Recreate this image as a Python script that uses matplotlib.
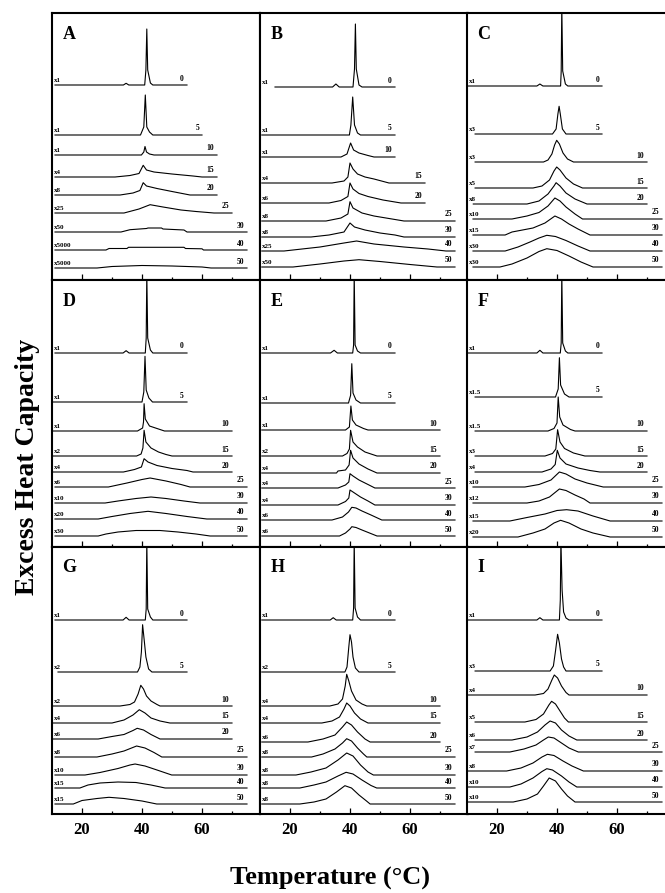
import matplotlib
matplotlib.use("Agg")
from matplotlib import pyplot as plt
from matplotlib.ticker import FixedLocator

plt.rcParams['font.family'] = ['Liberation Serif', 'DejaVu Serif']
plt.rcParams['font.weight'] = 'bold'

# scan rates / temperatures shown at the right of every trace
TEMPS = ["0", "5", "10", "15", "20", "25", "30", "40", "50"]

### ### ###   panel data: scale factor, baseline offset, (T, height) vertices   ### ### ###

A_SCALE = ["x1", "x1", "x1", "x4", "x8", "x25", "x50", "x5000", "x5000"]
A_BASE = [195, 145, 125, 103, 85, 67, 48, 30, 12]
A_CURVES = [
    [(11, 0), (33.8, 0), (34.7, 1.7), (35.6, 0), (40.9, 0), (41.3, 15), (41.6, 56), (41.9, 15), (42.8, 2), (43.6, 0), (55, 0)],
    [(11, 0), (39.5, 0), (40.6, 8), (41.1, 40), (41.6, 8), (42.5, 3), (43.6, 0), (60, 0)],
    [(11, 0), (39.8, 0), (40.6, 3), (41, 8.5), (41.5, 3), (42.5, 1), (44, 0), (65, 0)],
    [(11, 0), (31, 0), (36, 1.5), (39, 3.5), (40.4, 11.7), (41.5, 7), (44, 5), (50, 3), (57, 1), (60, 0), (65, 0)],
    [(11, 0), (32.7, 0), (37, 2), (39.3, 4.5), (40.4, 12.3), (41.5, 9), (45, 6.5), (50, 3.5), (56, 0), (65, 0)],
    [(11, 0), (34, 0), (39, 4), (42.7, 8.3), (47, 6), (53, 3), (58, 1.5), (64, 0), (70, 0)],
    [(11, 0), (33, 0), (36, 2.3), (41.5, 3.5), (42, 4), (46.5, 4), (47, 3), (54, 2), (55, 0), (75, 0)],
    [(11, 0), (28, 0), (29, 1.5), (35, 1.5), (35.5, 2.7), (54, 2.7), (54.5, 1.5), (60, 1.2), (60.5, 0), (75, 0)],
    [(11, 0), (25, 0), (30, 1.5), (40, 2.5), (50, 2), (60, 1), (63, 0), (75, 0)],
]

B_SCALE = ["x1", "x1", "x1", "x4", "x6", "x8", "x8", "x25", "x50"]
B_BASE = [193, 145, 123, 97, 77, 59, 43, 29, 13]
B_CURVES = [
    [(15, 0), (34.2, 0), (35.3, 3), (36.4, 0), (41, 0), (41.5, 18), (41.8, 63), (42.1, 18), (43, 2), (44, 0), (55, 0)],
    [(10.6, 0), (39.8, 0), (40.3, 10), (40.9, 38), (41.5, 10), (42.5, 2), (43.5, 0), (55, 0)],
    [(10.6, 0), (37, 0), (39, 3), (40.2, 14), (41.2, 7), (43, 4), (46, 1.5), (48, 0), (55, 0)],
    [(10.6, 0), (34, 0), (38, 2), (39.3, 6), (40, 20), (41, 14), (42.5, 9), (45, 6), (48, 4), (53, 0), (65, 0)],
    [(10.6, 0), (33, 0), (37, 2.5), (39.3, 6.5), (40, 20), (41, 14), (43, 9.5), (46, 6.5), (51, 3), (57, 0), (65, 0)],
    [(10.6, 0), (32, 0), (37, 3), (39.3, 7), (40, 19.3), (41, 13), (44, 8), (48, 5), (53, 2.5), (58, 0), (75, 0)],
    [(10.6, 0), (27, 0), (33, 2), (38, 5), (40, 14), (41.5, 10), (45, 7), (50, 4), (55, 2), (58, 0), (75, 0)],
    [(10.6, 0), (18, 0), (30, 4), (38, 8), (42.2, 10), (48, 7), (58, 4), (66, 2), (72, 0), (75, 0)],
    [(10.6, 0), (21, 0), (30, 3), (38, 6), (43, 7.3), (50, 5.5), (60, 2.5), (69, 0), (75, 0)],
]

C_SCALE = ["x1", "x3", "x3", "x5", "x8", "x10", "x15", "x30", "x30"]
C_BASE = [194, 146, 118, 92, 76, 61, 45, 29, 13]
C_CURVES = [
    [(10.4, 0), (33.3, 0), (34.3, 2), (35.3, 0), (41.2, 0), (41.4, 15), (41.6, 80), (41.9, 15), (42.8, 2), (43.6, 0), (55, 0)],
    [(12.7, 0), (38.5, 0), (39.7, 5), (40.3, 20), (40.7, 27.7), (41.1, 20), (41.8, 5), (43, 0), (55, 0)],
    [(12.7, 0), (35.5, 0), (37, 2), (38.3, 8), (39.2, 17), (39.9, 21.7), (40.8, 18), (42, 9), (43.5, 3), (45.5, 0), (70, 0)],
    [(12.7, 0), (32, 0), (35, 2), (37.5, 8), (39, 17), (39.9, 21), (41, 18), (43, 10), (45.5, 4), (48.5, 0), (70, 0)],
    [(12.1, 0), (30, 0), (34, 3), (37, 10), (39, 18), (39.7, 21.3), (41, 18), (43, 11), (46, 5), (50, 0), (70, 0)],
    [(12, 0), (25, 0), (30, 3), (34, 6.5), (37, 13), (39.3, 21), (41, 18), (43, 12), (46, 5), (48.5, 0), (75, 0)],
    [(12, 0), (22.7, 0), (25, 3), (32, 7), (36, 12), (39.3, 19), (41.5, 16), (44, 11), (47, 6), (51, 0), (75, 0)],
    [(12, 0), (22.7, 0), (27, 4), (31, 9), (34, 13), (36.6, 15.7), (39.5, 14.5), (43, 10.5), (47, 5), (51, 0), (75, 0)],
    [(12, 0), (21, 0), (25, 3), (30, 9), (34, 15.5), (36.6, 18.3), (40, 16.5), (44, 11), (48, 5), (52, 0), (75, 0)],
]

D_SCALE = ["x1", "x1", "x1", "x2", "x4", "x6", "x10", "x20", "x30"]
D_BASE = [194, 145, 116, 91, 75, 60, 44, 28, 11]
D_CURVES = [
    [(11, 0), (33.7, 0), (34.7, 2.3), (35.7, 0), (41.1, 0), (41.4, 15), (41.6, 80), (41.9, 15), (42.8, 3), (43.6, 0), (55, 0)],
    [(10.4, 0), (40, 0), (40.6, 10), (41, 45.7), (41.4, 12), (42.3, 4), (43.5, 0), (55, 0)],
    [(10.4, 0), (38.5, 0), (40.2, 3), (40.5, 9), (40.7, 27.3), (41.1, 12), (42.5, 5), (46, 1.5), (47.5, 0), (70, 0)],
    [(10.4, 0), (38.2, 0), (39.7, 2), (40.3, 8), (40.7, 25.7), (41.3, 14), (43, 8), (45.5, 4), (48, 1.5), (50, 0), (70, 0)],
    [(10.4, 0), (33.8, 0), (37.5, 2.5), (39.8, 5), (40.7, 13.3), (42, 10), (45, 6.5), (50, 3.5), (55, 1.5), (57, 0), (70, 0)],
    [(11, 0), (28.8, 0), (35, 4), (40, 7.5), (42.7, 9), (48, 6), (53, 2.5), (56, 0), (75, 0)],
    [(11, 0), (27.7, 0), (32, 2), (38, 4.5), (43, 6), (48, 4.5), (54, 2), (59.3, 0), (75, 0)],
    [(11, 0), (25.4, 0), (30, 2.5), (36, 5.5), (42, 7.7), (48, 5.5), (55, 2.5), (61.6, 0), (75, 0)],
    [(11, 0), (25.4, 0), (28, 2), (32, 4), (38, 5.5), (46, 5.5), (52, 4), (58, 2), (62.7, 0), (75, 0)],
]

E_SCALE = ["x1", "x1", "x1", "x2", "x4", "x4", "x4", "x6", "x6"]
E_BASE = [194, 144, 117, 91, 74, 59, 42, 27, 11]
E_CURVES = [
    [(10.6, 0), (33.5, 0), (34.7, 2.7), (35.8, 0), (40.9, 0), (41.2, 8), (41.4, 80), (41.7, 8), (42.5, 2), (43.5, 0), (55, 0)],
    [(10.6, 0), (39.5, 0), (40.2, 7.7), (40.6, 39.3), (41, 10), (42, 3), (43.5, 0), (55, 0)],
    [(10.6, 0), (38.5, 0), (39.8, 3), (40.3, 24), (40.8, 10), (42, 5), (44.5, 1.5), (46, 0), (70, 0)],
    [(10.6, 0), (37.5, 0), (39, 2.5), (39.8, 7), (40.2, 25.7), (41, 14), (42.5, 9), (45, 4), (47, 2), (49, 0), (70, 0)],
    [(10.6, 0), (35.5, 0), (36, 2), (38.5, 3), (39.7, 8), (40.2, 22.7), (41, 15), (43, 9), (46, 4), (49, 0), (70, 0)],
    [(10.6, 0), (36, 0), (38.5, 3), (39.6, 6), (40, 14.3), (41, 12), (43, 8), (46, 3.5), (48.3, 0), (75, 0)],
    [(10.6, 0), (36, 0), (38.5, 3.5), (39.6, 7), (40, 15), (41, 13), (43.5, 8), (46, 4), (48.3, 0), (75, 0)],
    [(10.6, 0), (34, 0), (37.5, 3), (39.5, 8), (40.6, 12.7), (42, 12), (44, 9), (47, 5), (50.6, 0), (75, 0)],
    [(10.6, 0), (36.5, 0), (38.5, 3), (40, 7), (40.6, 9.3), (42, 8.5), (44, 6), (46.5, 3), (49, 0), (75, 0)],
]

F_SCALE = ["x1", "x1.5", "x1.5", "x3", "x4", "x10", "x12", "x15", "x20"]
F_BASE = [194, 150, 116, 91, 75, 60, 44, 26, 10]
F_CURVES = [
    [(10.4, 0), (33.3, 0), (34.3, 2.7), (35.3, 0), (41.1, 0), (41.4, 10), (41.6, 80), (41.9, 10), (42.8, 2), (43.6, 0), (55, 0)],
    [(12.7, 0), (39.5, 0), (40.4, 8), (40.8, 39.3), (41.2, 12), (42.5, 3), (44, 0), (55, 0)],
    [(12.7, 0), (37, 0), (39, 2.5), (40, 8), (40.4, 34), (40.9, 14), (42, 6), (44.5, 1.5), (46, 0), (70, 0)],
    [(12.7, 0), (36, 0), (38.5, 2.5), (39.6, 7), (40.2, 26.3), (41, 14), (42.5, 7.5), (45.5, 3), (49.3, 0), (70, 0)],
    [(12.7, 0), (35, 0), (38, 3), (39.4, 7.5), (40.1, 21.7), (41, 14), (43, 8), (47, 4), (51, 1.5), (54.3, 0), (70, 0)],
    [(12, 0), (29.3, 0), (34, 2.5), (38, 7), (40.8, 15), (43, 13), (46, 8), (50, 4), (55.4, 0), (75, 0)],
    [(12, 0), (30, 0), (34, 2), (37.5, 6), (40.8, 14), (43, 12.5), (46, 8), (49, 4), (51, 0), (75, 0)],
    [(12, 0), (24.3, 0), (30, 3.5), (36, 7), (40, 10.5), (43.2, 11.3), (47, 10), (52, 5), (57.7, 0), (75, 0)],
    [(12, 0), (27, 0), (32, 4), (36, 8), (39, 14), (41.2, 16.7), (44, 14), (48, 8), (52, 4), (57.7, 0), (75, 0)],
]

G_SCALE = ["x1", "x2", "x2", "x4", "x6", "x8", "x10", "x15", "x15"]
G_BASE = [194, 142, 108, 91, 75, 57, 39, 26, 10]
G_CURVES = [
    [(11, 0), (33.7, 0), (34.7, 2.7), (35.7, 0), (41.1, 0), (41.4, 11), (41.6, 80), (41.9, 11), (42.8, 3), (43.6, 0), (55, 0)],
    [(12, 0), (38.5, 0), (39.3, 5), (39.8, 20), (40.2, 47.3), (40.8, 30), (41.3, 15), (42.2, 3), (43.3, 0), (55, 0)],
    [(10.4, 0), (32.7, 0), (36, 1.5), (37.5, 4), (38.7, 12), (39.6, 20.7), (40.5, 17), (41.5, 10), (43, 5), (45, 1.5), (46, 0), (70, 0)],
    [(10.4, 0), (30, 0), (34, 3), (37, 8), (39.1, 13.3), (41, 10), (43, 5), (46, 2), (49.3, 0), (70, 0)],
    [(10.4, 0), (25.4, 0), (30, 2.5), (34, 4.5), (37, 8.5), (38.4, 10.7), (40.5, 9), (43, 4.5), (46, 0), (70, 0)],
    [(11, 0), (25, 0), (30, 3), (34, 6), (38.2, 11), (41, 9), (44, 4.5), (46.6, 0), (75, 0)],
    [(11, 0), (21, 0), (26, 2.5), (32, 6.5), (36, 10), (37.7, 11), (41, 9), (45, 5), (49.9, 0), (75, 0)],
    [(11, 0), (19.3, 0), (22, 3), (26, 5), (32, 6), (38, 5.5), (43, 3), (47.7, 0), (75, 0)],
    [(11, 0), (17.1, 0), (20, 3.5), (25, 5.5), (29, 6.7), (34, 5.5), (40, 3), (44.9, 0), (75, 0)],
]

H_SCALE = ["x1", "x2", "x4", "x4", "x6", "x8", "x8", "x8", "x8"]
H_BASE = [194, 142, 108, 91, 72, 57, 39, 26, 10]
H_CURVES = [
    [(10.6, 0), (33.4, 0), (34.4, 2.3), (35.4, 0), (40.9, 0), (41.2, 12), (41.4, 80), (41.7, 12), (42.5, 3), (43.5, 0), (55, 0)],
    [(10.6, 0), (38.3, 0), (39, 5), (39.6, 25), (40, 37.3), (40.5, 30), (41, 15), (41.8, 4), (43, 0), (55, 0)],
    [(10.6, 0), (33.3, 0), (36, 2), (37.5, 7), (38.4, 20), (38.9, 31.7), (39.6, 25), (40.5, 15), (42, 6), (44, 2), (45.6, 0), (70, 0)],
    [(10.6, 0), (30.6, 0), (34, 2), (36.5, 6), (38, 14), (38.9, 20), (40, 17), (41.5, 10), (43.5, 4), (46, 0), (70, 0)],
    [(10.6, 0), (26, 0), (31, 3), (35, 7), (37.5, 15), (38.9, 20), (40.5, 17), (42.5, 10), (45, 3), (46.7, 0), (70, 0)],
    [(10.6, 0), (27.2, 0), (31, 3), (35, 8), (37.5, 14), (38.9, 18.3), (40.5, 16), (42.5, 9), (44.5, 3), (45.6, 0), (75, 0)],
    [(10.6, 0), (22, 0), (27, 3), (32, 7), (36, 15), (38.9, 22), (41, 19), (43.5, 10), (46, 3), (47.8, 0), (75, 0)],
    [(10.6, 0), (23.3, 0), (28, 3), (32, 6), (36, 12), (38.7, 15.7), (41, 14), (44, 8), (47, 2.5), (48.9, 0), (75, 0)],
    [(10.6, 0), (23.3, 0), (28, 2), (32, 5), (35.5, 12), (38.3, 18.3), (40.5, 16), (43, 9), (45.5, 3), (46.7, 0), (75, 0)],
]

I_SCALE = ["x1", "x3", "x4", "x5", "x6", "x7", "x8", "x10", "x10"]
I_BASE = [194, 143, 119, 92, 74, 62, 43, 27, 12]
I_CURVES = [
    [(10.4, 0), (33.3, 0), (34.3, 2.3), (35.3, 0), (40.8, 0), (41.1, 20), (41.3, 80), (41.7, 30), (42.2, 8), (43, 2), (44, 0), (55, 0)],
    [(12.7, 0), (37.7, 0), (38.8, 5), (39.5, 20), (40.2, 36.7), (40.8, 28), (41.5, 12), (42.2, 4), (43, 0), (55, 0)],
    [(10.4, 0), (32.7, 0), (35.5, 1.5), (37, 6), (38.3, 15), (39.1, 20), (40.2, 17), (41.5, 9), (43, 2.5), (44, 0), (70, 0)],
    [(12.7, 0), (29.3, 0), (33, 2.5), (35.5, 8), (37.3, 17), (38.2, 20.7), (39.5, 18), (41, 11), (42.5, 4), (43.8, 0), (70, 0)],
    [(12.7, 0), (25, 0), (30, 3), (33.5, 8), (36, 15), (37.7, 19), (39.5, 17), (41.5, 10), (44, 4), (46.6, 0), (70, 0)],
    [(12.7, 0), (24.3, 0), (29, 3), (33, 7), (35.5, 12), (37.1, 15), (39, 14), (41.5, 9), (44, 4), (47.1, 0), (75, 0)],
    [(10.4, 0), (23.2, 0), (28, 3), (32, 8), (35, 14), (36.8, 16.7), (39, 15.5), (42, 10), (45, 5), (48.8, 0), (75, 0)],
    [(10.4, 0), (24.3, 0), (28, 3), (32, 9), (35, 15.5), (36.6, 18.3), (38.5, 17), (41.5, 11), (44, 5), (46.6, 0), (75, 0)],
    [(10.4, 0), (25.4, 0), (30, 3), (33.5, 8), (35.5, 16), (37.4, 24), (39.5, 21), (41.5, 13), (43.5, 6), (46, 0), (75, 0)],
]

PANELS = [
    ("A", A_SCALE, A_BASE, A_CURVES), ("B", B_SCALE, B_BASE, B_CURVES), ("C", C_SCALE, C_BASE, C_CURVES),
    ("D", D_SCALE, D_BASE, D_CURVES), ("E", E_SCALE, E_BASE, E_CURVES), ("F", F_SCALE, F_BASE, F_CURVES),
    ("G", G_SCALE, G_BASE, G_CURVES), ("H", H_SCALE, H_BASE, H_CURVES), ("I", I_SCALE, I_BASE, I_CURVES),
]

W, H = 665, 893
COL_LEFT = [52, 260, 467]
ROW_TOP = [13, 280, 547]
PANEL_W, PANEL_H = 208, 267

fig = plt.figure(figsize=(W / 100, H / 100), dpi=100)

for i, (letter, scales, bases, curves) in enumerate(PANELS):
    row, col = divmod(i, 3)
    ax = fig.add_axes([COL_LEFT[col] / W, 1 - (ROW_TOP[row] + PANEL_H) / H, PANEL_W / W, PANEL_H / H])
    ax.set_xlim(10, 10 + PANEL_W / 3)
    ax.set_ylim(0, PANEL_H)

    for scale, temp, base, pts in zip(scales, TEMPS, bases, curves):
        xs = [p[0] for p in pts]
        ys = [base + p[1] for p in pts]
        ax.plot(xs, ys, color='black', lw=0.8)
        ax.text(10.6, base + 2, scale, fontsize=5, fontweight='bold', ha='left', va='bottom')
        ax.text(xs[-1] - 1, base + 2.5, temp, fontsize=5.5, fontweight='bold', ha='right', va='bottom')

    ax.text(13.5, 246, letter, fontsize=13, fontweight='bold', ha='left', va='center')

    for side in ax.spines.values():
        side.set_linewidth(1.5)
    ax.xaxis.set_major_locator(FixedLocator([20, 40, 60]))
    ax.xaxis.set_minor_locator(FixedLocator([30, 50, 70]))
    ax.tick_params(axis='x', which='major', direction='in', length=4, width=0.9, pad=6,
                   labelsize=12, labelbottom=(row == 2))
    ax.tick_params(axis='x', which='minor', direction='in', length=2.2, width=0.9)
    ax.set_yticks([])
    for lab in ax.get_xticklabels():
        lab.set_fontweight('bold')

fig.text(28 / W, 1 - 467 / H, "Excess Heat Capacity", rotation=90, fontsize=20,
         fontweight='bold', ha='center', va='center')
fig.text(330 / W, 1 - 878 / H, "Temperature (°C)", fontsize=19,
         fontweight='bold', ha='center', va='center')

fig.savefig("out.png", dpi=100)
